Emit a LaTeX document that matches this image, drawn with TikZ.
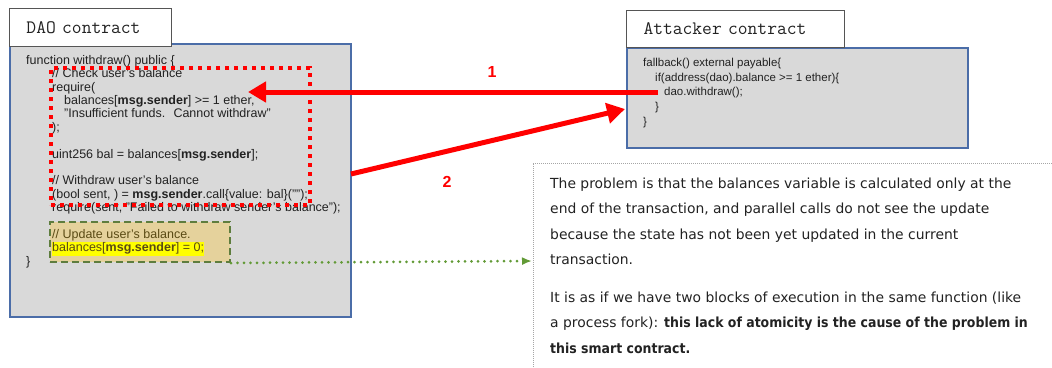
\documentclass[tikz,border=0pt]{standalone}
\usepackage{fontspec}
\setmainfont{Liberation Sans}
\newfontfamily\notefont[BoldFeatures={FakeStretch=0.9}]{DejaVu Sans}
\usetikzlibrary{arrows.meta}

\definecolor{boxgray}{HTML}{D9D9D9}
\definecolor{boxblue}{HTML}{4B6DA8}
\definecolor{titlegray}{HTML}{555555}
\definecolor{codeblack}{HTML}{222222}
\definecolor{updatetan}{HTML}{E5D29C}
\definecolor{updateolive}{HTML}{5E7D3E}
\definecolor{updatetext}{HTML}{5A4A14}
\definecolor{dotgreen}{HTML}{629A36}
\definecolor{hiyellow}{HTML}{FFFF00}
\definecolor{arrowred}{HTML}{FF0000}

\tikzset{
  codebox/.style={draw=boxblue, fill=boxgray, line width=1.5pt, anchor=north west, inner sep=0pt},
  titlebox/.style={draw=titlegray, fill=white, line width=1pt, anchor=north west, inner xsep=17pt,
    align=left, minimum height=38pt, text=codeblack, font=\ttfamily\fontsize{19}{20}\selectfont},
  codetext/.style={anchor=north west, inner sep=0pt, align=left, text=codeblack},
  updatebox/.style={draw=updateolive, fill=updatetan, line width=2pt, dash pattern=on 7pt off 4pt,
    anchor=north west, inner sep=0pt},
  checkbox/.style={draw=arrowred, line width=4pt, dash pattern=on 4pt off 5pt, anchor=north west, inner sep=0pt},
  redarrow/.style={draw=arrowred, line width=5pt, -{Triangle[length=18pt,width=20pt]}},
  greenarrow/.style={draw=dotgreen, line width=3pt, line cap=round, dash pattern=on 0pt off 6.5pt,
    -{Latex[length=10pt,width=8pt]}},
  notedot/.style={draw=gray!70, line width=0.8pt, dash pattern=on 1pt off 1pt},
  notetext/.style={anchor=north west, inner sep=0pt, align=left, text=codeblack,
    font=\notefont\fontsize{13.9}{25.2}\selectfont},
  steplabel/.style={text=arrowred, font=\bfseries\fontsize{16}{18}\selectfont, inner sep=0pt}
}

\begin{document}
\begin{tikzpicture}[x=1pt,y=-1pt]
\useasboundingbox (0,0) rectangle (1052,367);

% DAO contract
\node [codebox, minimum width=341pt, minimum height=273pt] (dao) at (9,43) {};
\node [titlebox, minimum width=162pt, text width=128pt] (daotitle) at (9,8) {DAO contract};
\node [updatebox, minimum width=180pt, minimum height=40pt] (update) at (49,221) {};
\setlength{\fboxsep}{0pt}
\node [codetext, font=\fontsize{12.5}{13.4}\selectfont] (daocode) at (26,55) {%
  function withdraw() public \{\\
  \hspace*{26pt}// Check user's balance\\
  \hspace*{26pt}require(\\
  \hspace*{38pt}balances[\textbf{msg.sender}] >= 1 ether,\\
  \hspace*{38pt}"Insufficient funds.~ Cannot withdraw"\\
  \hspace*{26pt});\\
  ~\\
  \hspace*{26pt}uint256 bal = balances[\textbf{msg.sender}];\\
  ~\\
  \hspace*{26pt}// Withdraw user's balance\\
  \hspace*{26pt}(bool sent, ) = \textbf{msg.sender}.call\{value: bal\}("");\\
  \hspace*{26pt}require(sent, "Failed to withdraw sender's balance");\\
  ~\\
  \hspace*{26pt}\textcolor{updatetext}{// Update user's balance.}\\
  \hspace*{26pt}\colorbox{hiyellow}{\strut\textcolor{updatetext}{balances[\textbf{msg.sender}] = 0;}}\\
  \}};
\node [checkbox, minimum width=259pt, minimum height=137pt] (check) at (49,66) {};

% Attacker contract
\node [codebox, minimum width=341pt, minimum height=100pt] (att) at (626,47) {};
\node [titlebox, minimum width=218pt, minimum height=37pt, text width=184pt] (atttitle) at (626,10) {Attacker contract};
\node [codetext, font=\fontsize{11.5}{14.7}\selectfont] (attcode) at (643,58) {%
  fallback() external payable\{\\
  \hspace*{12pt}if(address(dao).balance >= 1 ether)\{\\
  \hspace*{21pt}dao.withdraw();\\
  \hspace*{12pt}\}\\
  \}};

% explanation
\draw [notedot] (533,367) -- (533,163) -- (1052,163);
\node [notetext] (para1) at (550,178) {The problem is that the balances variable is calculated only at the\\
  end of the transaction, and parallel calls do not see the update\\
  because the state has not been yet updated in the current\\
  transaction.};
\node [notetext] (para2) at (550,292) {It is as if we have two blocks of execution in the same function (like\\
  a process fork): \textbf{this lack of atomicity is the cause of the problem in}\\
  \textbf{this smart contract.}};

% calls
\coordinate (callpt) at (658,92);
\coordinate (checkpt) at (248,92);
\coordinate (sendpt) at (351,174);
\coordinate (fallpt) at (625,109);
\coordinate (notept) at (532,261);
\draw [redarrow] (callpt) -- (checkpt);
\draw [redarrow] (sendpt) -- (fallpt);
\draw [greenarrow] (update.south east) -- (notept);
\node [steplabel] (lab1) at (492,72) {1};
\node [steplabel] (lab2) at (447,182) {2};

\end{tikzpicture}
\end{document}
